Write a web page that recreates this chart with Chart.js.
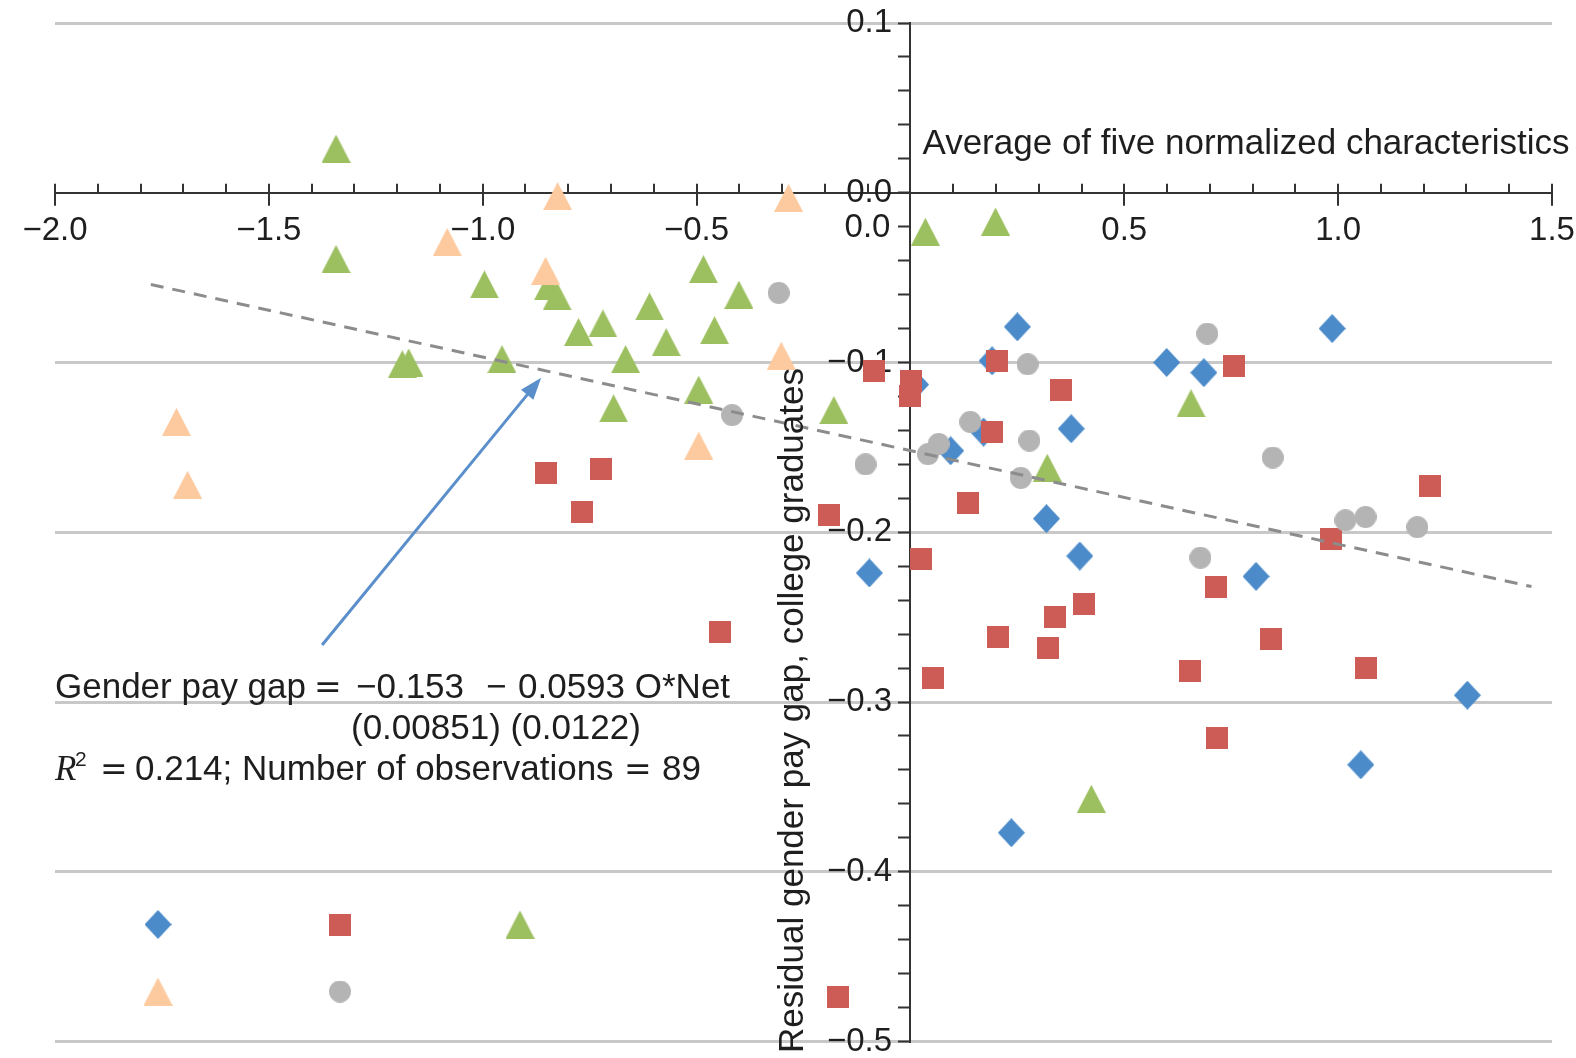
<!DOCTYPE html>
<html>
<head>
<meta charset="utf-8">
<title>Residual gender pay gap and O*Net characteristics</title>
<script src="https://cdn.jsdelivr.net/npm/chart.js"></script>
<style>
  html, body { margin: 0; padding: 0; background: #fff; }
  #wrap { width: 1576px; height: 1058px; }
</style>
</head>
<body>
<div id="wrap"><canvas id="chart" width="1576" height="1058"></canvas></div>
<script>
// values (x = O*Net average, y = residual pay gap)
const blueX = [0.250, 0.191, 0.012, 0.094, 0.171, 0.376, 0.318, 0.396, -0.096, 0.599, 0.686, 0.986, 0.808, 1.302, 1.053, 0.236];
const blueY = [-0.079, -0.099, -0.113, -0.152, -0.141, -0.139, -0.192, -0.214, -0.224, -0.100, -0.106, -0.080, -0.226, -0.296, -0.337, -0.377];

const redX = [-0.086, 0.002, -0.002, 0.203, 0.352, 0.756, 0.191, 0.135, -0.852, -0.723, -0.767, -0.191, 0.025, 0.052,
  0.204, 0.337, 0.405, 0.322, 0.714, 0.654, 0.843, 1.065, 0.717, 0.984, 1.215, -0.445, -0.170];
const redY = [-0.105, -0.111, -0.120, -0.099, -0.116, -0.102, -0.141, -0.183, -0.165, -0.163, -0.188, -0.190, -0.216, -0.286,
  -0.262, -0.250, -0.242, -0.268, -0.232, -0.282, -0.263, -0.280, -0.321, -0.204, -0.173, -0.259, -0.474];

const greenX = [-1.343, -1.343, -1.188, -1.173, -0.996, -0.955, -0.846, -0.826, -0.776, -0.719, -0.694, -0.666,
  -0.610, -0.571, -0.484, -0.458, -0.495, -0.401, -0.179, 0.035, 0.199, 0.656, 0.320, 0.423];
const greenY = [0.026, -0.039, -0.101, -0.100, -0.054, -0.098, -0.055, -0.061, -0.082, -0.077, -0.127, -0.098,
  -0.067, -0.088, -0.045, -0.081, -0.116, -0.060, -0.128, -0.023, -0.017, -0.124, -0.162, -0.357];

const peachX = [-0.825, -0.285, -1.083, -0.853, -0.302, -1.716, -1.690, -0.495];
const peachY = [-0.002, -0.003, -0.029, -0.046, -0.096, -0.135, -0.172, -0.149];

const grayX = [-0.308, -0.417, -0.105, 0.041, 0.066, 0.140, 0.258, 0.278, 0.274, 0.694, 0.847, 0.678, 1.017, 1.064, 1.185];
const grayY = [-0.059, -0.131, -0.160, -0.154, -0.148, -0.135, -0.168, -0.146, -0.101, -0.083, -0.156, -0.215, -0.193, -0.191, -0.197];

// fitted line, end points as drawn
const fitX = [-1.776, 1.452];
const fitY = [-0.054, -0.232];

const xTickValues = [-2.0, -1.5, -1.0, -0.5, 0.0, 0.5, 1.0, 1.5];
const yTickValues = [0.1, 0.0, -0.1, -0.2, -0.3, -0.4, -0.5];

const SANS = '"Liberation Sans", Arial, Helvetica, sans-serif';
const SERIF = '"Liberation Serif", "Times New Roman", serif';
const MATH = '"DejaVu Sans", ' + SANS;
const TEXT = '#1e1e1e';
const AXIS = '#333333';
const GRID = '#c8c8c8';

Chart.defaults.font.family = SANS;
Chart.defaults.color = TEXT;

function fmt(v) {
  if (Math.abs(v) < 1e-9) return '0.0';
  return (v < 0 ? '\u2212' : '') + Math.abs(v).toFixed(1);
}
function findTick(list, v) {
  return list.find(t => Math.abs(t - v) < 1e-6);
}

// marker images, so the shapes match the original symbols
function marker(shape, color, w, h) {
  const c = document.createElement('canvas');
  c.width = w; c.height = h;
  const g = c.getContext('2d');
  g.fillStyle = color;
  g.beginPath();
  if (shape === 'diamond') {
    g.moveTo(w / 2, 0); g.lineTo(w, h / 2); g.lineTo(w / 2, h); g.lineTo(0, h / 2);
  } else if (shape === 'square') {
    g.rect(0, 0, w, h);
  } else if (shape === 'triangle') {
    g.moveTo(w / 2, 0); g.lineTo(w, h); g.lineTo(0, h);
  } else {
    g.ellipse(w / 2, h / 2, w / 2, h / 2, 0, 0, Math.PI * 2);
  }
  g.closePath();
  g.fill();
  return c;
}

const markers = {
  blue: marker('diamond', '#4b8bca', 27, 29),
  red: marker('square', '#cc5c55', 22, 22),
  green: marker('triangle', '#9cbf5f', 29, 28),
  peach: marker('triangle', '#fdca9f', 29, 28),
  gray: marker('circle', '#b4b4b4', 22, 22)
};

const toPts = (xs, ys) => xs.map((v, i) => ({ x: v, y: ys[i] }));

function series(label, xs, ys, img, order) {
  return {
    label: label,
    data: toPts(xs, ys),
    pointStyle: img,
    pointRadius: 14,
    pointBorderWidth: 0,
    order: order
  };
}

// tick marks of the x axis, arrow, annotation text, legend symbols, axis titles
const decor = {
  id: 'decor',
  beforeDatasetsDraw(chart) {
    const { ctx, scales: { x, y } } = chart;
    const y0 = y.getPixelForValue(0);
    ctx.save();
    ctx.strokeStyle = AXIS;
    ctx.lineWidth = 2;
    ctx.beginPath();
    for (let i = -20; i <= 15; i++) {
      if (i === 0) continue;
      const px = Math.round(x.getPixelForValue(i / 10));
      ctx.moveTo(px, y0 - 9);
      ctx.lineTo(px, i % 5 === 0 ? y0 + 13 : y0);
    }
    ctx.stroke();
    // the 0.0 label of the x axis sits left of the y axis
    ctx.font = '33px ' + SANS;
    ctx.fillStyle = TEXT;
    ctx.textAlign = 'right';
    ctx.textBaseline = 'middle';
    ctx.fillText(fmt(0), x.getPixelForValue(0) - 20, y0 + 35);
    ctx.restore();
  },
  afterDatasetsDraw(chart) {
    const { ctx, chartArea, scales: { x, y } } = chart;
    ctx.save();

    // arrow pointing at the fitted line
    const ax0 = x.getPixelForValue(-1.3755), ay0 = y.getPixelForValue(-0.2664);
    const ax1 = x.getPixelForValue(-0.8634), ay1 = y.getPixelForValue(-0.109);
    const ang = Math.atan2(ay1 - ay0, ax1 - ax0);
    const headL = 22, headW = 8;
    ctx.strokeStyle = '#5a8fcc';
    ctx.fillStyle = '#5a8fcc';
    ctx.lineWidth = 3;
    ctx.beginPath();
    ctx.moveTo(ax0, ay0);
    ctx.lineTo(ax1 - Math.cos(ang) * headL * 0.8, ay1 - Math.sin(ang) * headL * 0.8);
    ctx.stroke();
    ctx.beginPath();
    ctx.moveTo(ax1, ay1);
    ctx.lineTo(ax1 - Math.cos(ang) * headL + Math.sin(ang) * headW, ay1 - Math.sin(ang) * headL - Math.cos(ang) * headW);
    ctx.lineTo(ax1 - Math.cos(ang) * headL - Math.sin(ang) * headW, ay1 - Math.sin(ang) * headL + Math.cos(ang) * headW);
    ctx.closePath();
    ctx.fill();

    // regression text
    const left = x.getPixelForValue(-2.0);
    const base1 = y.getPixelForValue(-0.2975);
    const font = '35px ' + SANS;
    const eq = '33px ' + MATH;
    ctx.fillStyle = TEXT;
    ctx.textAlign = 'left';
    ctx.textBaseline = 'alphabetic';
    const runs = [
      { t: 'Gender pay gap', dx: 0, dy: 0 },
      { t: '=', dx: 259, dy: 0, f: eq },
      { t: '\u22120.153', dx: 301, dy: 0 },
      { t: '\u2212', dx: 431, dy: 0 },
      { t: '0.0593 O*Net', dx: 463, dy: 0 },
      { t: '(0.00851) (0.0122)', dx: 296, dy: 41 },
      { t: 'R', dx: 0, dy: 82, f: 'italic 35px ' + SERIF },
      { t: '2', dx: 20, dy: 68, f: '21px ' + SANS },
      { t: '=', dx: 45, dy: 82, f: eq },
      { t: '0.214; Number of observations', dx: 80, dy: 82 },
      { t: '=', dx: 569, dy: 82, f: eq },
      { t: '89', dx: 607, dy: 82 }
    ];
    runs.forEach(r => {
      ctx.font = r.f || font;
      ctx.fillText(r.t, left + r.dx, base1 + r.dy);
    });

    // legend symbols (the original legend has no visible labels)
    const cols = [103, 285, 465];
    const rows = [chartArea.bottom - 117, chartArea.bottom - 50];
    for (let i = 0; i < 5; i++) {
      const img = chart.data.datasets[i].pointStyle;
      const cx = chartArea.left + cols[i % 3];
      const cy = rows[Math.floor(i / 3)];
      ctx.drawImage(img, cx - img.width / 2, cy - img.height / 2);
    }

    // axis titles
    const x0 = x.getPixelForValue(0), y0 = y.getPixelForValue(0);
    ctx.font = '35px ' + SANS;
    ctx.fillText('Average of five normalized characteristics', x0 + 12, y0 - 39);
    ctx.translate(x0 - 107, y.getPixelForValue(-0.305));
    ctx.rotate(-Math.PI / 2);
    ctx.textAlign = 'center';
    ctx.fillText('Residual gender pay gap, college graduates', 0, 0);
    ctx.restore();
  }
};

new Chart(document.getElementById('chart'), {
  type: 'scatter',
  data: {
    datasets: [
      series('Group 1', blueX, blueY, markers.blue, 5),
      series('Group 2', redX, redY, markers.red, 4),
      series('Group 3', greenX, greenY, markers.green, 3),
      series('Group 4', peachX, peachY, markers.peach, 2),
      series('Group 5', grayX, grayY, markers.gray, 1),
      {
        label: 'Fit',
        data: toPts(fitX, fitY),
        showLine: true,
        borderColor: '#8c8c8c',
        borderWidth: 3,
        borderDash: [13, 9],
        pointRadius: 0,
        order: 0
      }
    ]
  },
  options: {
    responsive: false,
    animation: false,
    devicePixelRatio: 1,
    layout: { padding: { left: 55, right: 24, top: 23, bottom: 16 } },
    plugins: { legend: { display: false }, tooltip: { enabled: false } },
    scales: {
      x: {
        type: 'linear',
        min: -2.0,
        max: 1.5,
        position: { y: 0 },
        afterBuildTicks: (scale) => { scale.ticks = xTickValues.map(v => ({ value: v })); },
        // tick marks are drawn by the plugin; the invisible ones only set the label gap
        grid: { display: true, drawOnChartArea: false, drawTicks: true, tickLength: 22, tickColor: 'rgba(0,0,0,0)' },
        border: { display: true, color: AXIS, width: 2 },
        ticks: {
          autoSkip: false,
          maxRotation: 0,
          padding: 0,
          color: TEXT,
          font: { family: SANS, size: 33, lineHeight: 1 },
          callback: (v) => {
            const t = findTick(xTickValues, v);
            return (t === undefined || t === 0) ? '' : fmt(t);
          }
        }
      },
      y: {
        type: 'linear',
        min: -0.5,
        max: 0.1,
        position: { x: 0 },
        grid: {
          drawTicks: true,
          tickLength: 11,
          tickWidth: 2,
          tickColor: AXIS,
          lineWidth: 3,
          color: (c) => {
            if (!c.tick) return 'rgba(0,0,0,0)';
            const t = findTick(yTickValues, c.tick.value);
            return (t === undefined || t === 0) ? 'rgba(0,0,0,0)' : GRID;
          }
        },
        border: { display: true, color: AXIS, width: 2 },
        ticks: {
          stepSize: 0.02,
          autoSkip: false,
          padding: 0,
          color: TEXT,
          font: { family: SANS, size: 33, lineHeight: 1 },
          // a figure space keeps the label clear of the axis line
          callback: (v) => {
            const t = findTick(yTickValues, v);
            return t === undefined ? '' : fmt(t) + '\u2007';
          }
        }
      }
    }
  },
  plugins: [decor]
});
</script>
</body>
</html>
